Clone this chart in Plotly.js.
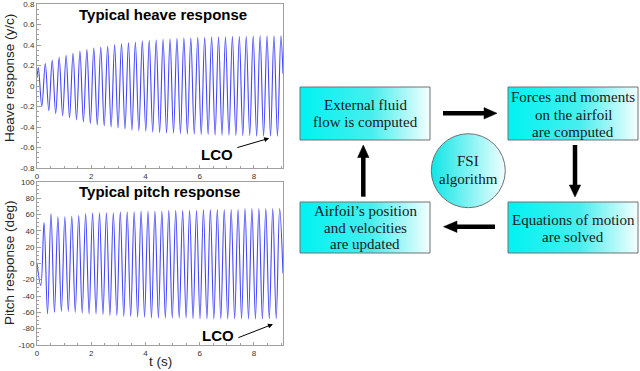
<!DOCTYPE html>
<html>
<head>
<meta charset="utf-8">
<script src="https://cdn.plot.ly/plotly-3.0.1.min.js"></script>
<style>html,body{margin:0;padding:0;background:#fff;}#chart{width:640px;height:371px;}</style>
</head>
<body>
<div id="chart"></div>
<script>
// ---- Heave response (y/c): start, alternating peaks/troughs, end ----
const heaveT = [0, 0.050, 0.178, 0.306, 0.434, 0.561, 0.689, 0.817, 0.945, 1.072, 1.200, 1.328, 1.456, 1.583, 1.711, 1.839, 1.967, 2.094, 2.222, 2.350, 2.478, 2.605, 2.733, 2.861, 2.989, 3.116, 3.244, 3.372, 3.500, 3.627, 3.755, 3.883, 4.011, 4.138, 4.266, 4.394, 4.522, 4.649, 4.777, 4.905, 5.033, 5.160, 5.288, 5.416, 5.544, 5.671, 5.799, 5.927, 6.055, 6.182, 6.310, 6.438, 6.566, 6.693, 6.821, 6.949, 7.077, 7.204, 7.332, 7.460, 7.588, 7.715, 7.843, 7.971, 8.099, 8.226, 8.354, 8.482, 8.610, 8.737, 8.865, 8.993, 9.07];
const heaveY = [0.08, 0.18, -0.20, 0.22, -0.24, 0.25, -0.27, 0.28, -0.29, 0.30, -0.31, 0.32, -0.33, 0.34, -0.35, 0.355, -0.365, 0.37, -0.38, 0.38, -0.39, 0.39, -0.40, 0.405, -0.41, 0.415, -0.42, 0.425, -0.43, 0.43, -0.435, 0.44, -0.44, 0.445, -0.45, 0.45, -0.455, 0.455, -0.46, 0.46, -0.46, 0.465, -0.465, 0.47, -0.47, 0.47, -0.47, 0.475, -0.475, 0.475, -0.475, 0.48, -0.48, 0.48, -0.48, 0.48, -0.48, 0.485, -0.485, 0.485, -0.485, 0.485, -0.485, 0.49, -0.49, 0.49, -0.49, 0.49, -0.49, 0.49, -0.49, 0.49, 0.12];

// ---- Pitch response (deg) ----
const pitchT = [0, 0.140, 0.260, 0.388, 0.516, 0.644, 0.771, 0.899, 1.027, 1.155, 1.282, 1.410, 1.538, 1.666, 1.793, 1.921, 2.049, 2.177, 2.304, 2.432, 2.560, 2.688, 2.815, 2.943, 3.071, 3.199, 3.326, 3.454, 3.582, 3.710, 3.837, 3.965, 4.093, 4.221, 4.348, 4.476, 4.604, 4.732, 4.859, 4.987, 5.115, 5.243, 5.370, 5.498, 5.626, 5.754, 5.881, 6.009, 6.137, 6.265, 6.392, 6.520, 6.648, 6.776, 6.903, 7.031, 7.159, 7.287, 7.414, 7.542, 7.670, 7.798, 7.925, 8.053, 8.181, 8.309, 8.436, 8.564, 8.692, 8.820, 8.947, 9.07];
const pitchY = [0, -27, 50, -62, 61, -60, 57, -59, 57, -59, 58, -60, 59, -61, 61, -62, 62, -62, 62, -63, 62, -64, 62, -64, 63, -65, 63, -65, 63, -66, 64, -66, 64, -67, 64, -67, 64, -67, 65, -67, 65, -67, 65, -67, 65, -68, 65, -68, 66, -68, 66, -68, 66, -68, 66, -68, 66, -68, 66, -68, 67, -68, 67, -68, 67, -68, 67, -68, 67, -68, 67, -12];

// ---- tick labels ----
const timeTicks = [0, 2, 4, 6, 8];
const timeTickText = ['0', '2', '4', '6', '8'];
const heaveTicks = [-0.8, -0.6, -0.4, -0.2, 0, 0.2, 0.4, 0.6, 0.8];
const heaveTickText = ['-0.8', '-0.6', '-0.4', '-0.2', '0', '0.2', '0.4', '0.6', '0.8'];
const pitchTicks = [-100, -80, -60, -40, -20, 0, 20, 40, 60, 80, 100];
const pitchTickText = ['-100', '-80', '-60', '-40', '-20', '0', '20', '40', '60', '80', '100'];

// ---- texts ----
const heaveTitle = 'Typical heave response';
const pitchTitle = 'Typical pitch response';
const heaveAxisTitle = 'Heave response (y/c)';
const pitchAxisTitle = 'Pitch response (deg)';
const timeAxisTitle = 't (s)';
const lcoLabel = 'LCO';
const boxLines = [
  ['External fluid', 'flow is computed'],
  ['Forces and moments', 'on the airfoil', 'are computed'],
  ['Equations of motion', 'are solved'],
  ['Airfoil\u2019s position', 'and velocities', 'are updated']
];
const circleLines = ['FSI', 'algorithm'];

// ---- diagram layout (pixel frame of the overlay axis) ----
const boxes = [
  {x0: 300, x1: 430, y0: 87, y1: 140, cy: [105, 122.3]},
  {x0: 508, x1: 638, y0: 87, y1: 140, cy: [97.3, 114.5, 131.7]},
  {x0: 508, x1: 638, y0: 202, y1: 253, cy: [220, 236.7]},
  {x0: 300, x1: 430, y0: 202, y1: 253, cy: [211, 227.7, 244.3]}
];
const circle = {cx: 468.3, cy: 170.7, d: 74, ty: [160.7, 179.3]};

const blue = '#4646ff';
const frameColor = '#a0a0a0';
const serif = 'Liberation Serif, Times New Roman, serif';
const sans = 'Liberation Sans, Arial, sans-serif';

const traces = [
  {x: heaveT, y: heaveY, xaxis: 'x', yaxis: 'y', mode: 'lines', line: {color: blue, width: 1.1, shape: 'spline', smoothing: 1, simplify: false}, hoverinfo: 'skip'},
  {x: pitchT, y: pitchY, xaxis: 'x2', yaxis: 'y2', mode: 'lines', line: {color: blue, width: 1.1, shape: 'spline', smoothing: 1, simplify: false}, hoverinfo: 'skip'}
];

boxes.forEach(b => {
  traces.push({
    x: [b.x0, b.x1, b.x1, b.x0, b.x0], y: [b.y0, b.y0, b.y1, b.y1, b.y0],
    xaxis: 'x3', yaxis: 'y3', mode: 'lines', fill: 'toself',
    fillgradient: {type: 'horizontal', colorscale: [[0, '#00f2f2'], [0.55, '#48eeee'], [1, '#f4ffff']]},
    line: {color: '#707070', width: 1}, hoverinfo: 'skip'
  });
});
traces.push({
  x: [circle.cx], y: [circle.cy], xaxis: 'x3', yaxis: 'y3', mode: 'markers',
  marker: {size: circle.d, color: '#10e6e6', gradient: {type: 'horizontal', color: '#f0ffff'}, line: {color: '#707070', width: 1}},
  hoverinfo: 'skip'
});

const annotations = [];
function txt(x, y, text, size, family, opts) {
  annotations.push(Object.assign({x: x, y: y, xref: 'x3', yref: 'y3', text: text, showarrow: false,
    font: {size: size, family: family, color: '#1a1a1a'}, xanchor: 'center', yanchor: 'middle'}, opts || {}));
}
boxes.forEach((b, i) => {
  boxLines[i].forEach((line, j) => txt((b.x0 + b.x1) / 2, b.cy[j], line, 15, serif));
});
circleLines.forEach((line, j) => txt(circle.cx, circle.ty[j], line, 15, serif));

txt(163, 14, '<b>' + heaveTitle + '</b>', 15, sans, {font: {size: 15, family: sans, color: '#000'}});
txt(159, 191, '<b>' + pitchTitle + '</b>', 15, sans, {font: {size: 15, family: sans, color: '#000'}});
txt(9, 78, heaveAxisTitle, 13.5, sans, {textangle: -90, font: {size: 13.5, family: sans, color: '#222'}});
txt(9, 263, pitchAxisTitle, 13.5, sans, {textangle: -90, font: {size: 13.5, family: sans, color: '#222'}});
txt(160, 361, timeAxisTitle, 13.5, sans, {font: {size: 13.5, family: sans, color: '#222'}});

// LCO labels and arrows (data coordinates)
annotations.push({x: 6.62, y: -0.67, xref: 'x', yref: 'y', text: '<b>' + lcoLabel + '</b>', showarrow: false, font: {size: 15, family: sans, color: '#000'}});
annotations.push({x: 8.56, y: -0.51, xref: 'x', yref: 'y', ax: 7.33, ay: -0.605, axref: 'x', ayref: 'y', text: '', showarrow: true, arrowhead: 2, arrowsize: 1, arrowwidth: 1, arrowcolor: '#000'});
annotations.push({x: 6.67, y: -88, xref: 'x2', yref: 'y2', text: '<b>' + lcoLabel + '</b>', showarrow: false, font: {size: 15, family: sans, color: '#000'}});
annotations.push({x: 8.70, y: -74.5, xref: 'x2', yref: 'y2', ax: 7.37, ay: -91.7, axref: 'x2', ayref: 'y2', text: '', showarrow: true, arrowhead: 2, arrowsize: 1, arrowwidth: 1, arrowcolor: '#000'});

// thick flow arrows
const shapes = [];
function arrow(x0, y0, x1, y1, tip) {
  shapes.push({type: 'line', xref: 'x3', yref: 'y3', x0: x0, y0: y0, x1: x1, y1: y1, line: {color: '#000', width: 4.5}});
  shapes.push({type: 'path', xref: 'x3', yref: 'y3', path: tip, fillcolor: '#000', line: {color: '#000', width: 0.5}});
}
arrow(443, 113.3, 485, 113.3, 'M 484 107.6 L 497 113.3 L 484 119 Z');
arrow(575, 145, 575, 186, 'M 569.3 185 L 575 197 L 580.7 185 Z');
arrow(495, 226.7, 456, 226.7, 'M 457 221 L 443.5 226.7 L 457 232.4 Z');
arrow(363.3, 196.7, 363.3, 156, 'M 357.6 157.5 L 363.3 145 L 369 157.5 Z');

function timeAxis(anchor, domain) {
  return {domain: domain, anchor: anchor, range: [0, 9.07], tickvals: timeTicks, ticktext: timeTickText,
    ticks: 'inside', ticklen: 3, tickcolor: frameColor, tickwidth: 1, showline: true, mirror: true,
    linecolor: frameColor, linewidth: 1, showgrid: false, zeroline: false, ticklabeloverflow: 'allow',
    tickfont: {size: 8, family: sans, color: '#333'},
    minor: {dtick: 0.5, ticks: 'inside', ticklen: 2, tickcolor: frameColor}};
}
function valueAxis(anchor, domain, range, tv, tt, mdt) {
  return {domain: domain, anchor: anchor, range: range, tickvals: tv, ticktext: tt,
    ticks: 'inside', ticklen: 4, tickcolor: frameColor, tickwidth: 1, showline: true, mirror: true,
    linecolor: frameColor, linewidth: 1, showgrid: false, zeroline: false, ticklabeloverflow: 'allow',
    tickfont: {size: 8, family: sans, color: '#333'},
    minor: {dtick: mdt, ticks: 'inside', ticklen: 2, tickcolor: frameColor}};
}

const layout = {
  width: 640, height: 371, margin: {l: 0, r: 0, t: 0, b: 0},
  paper_bgcolor: '#ffffff', plot_bgcolor: 'rgba(0,0,0,0)', showlegend: false,
  font: {family: sans},
  xaxis: timeAxis('y', [37 / 640, 283 / 640]),
  yaxis: valueAxis('x', [203 / 371, 367 / 371], [-0.8, 0.8], heaveTicks, heaveTickText, 0.05),
  xaxis2: timeAxis('y2', [37 / 640, 283 / 640]),
  yaxis2: valueAxis('x2', [26 / 371, 189.3 / 371], [-100, 100], pitchTicks, pitchTickText, 5),
  xaxis3: {domain: [0, 1], range: [0, 640], anchor: 'y3', visible: false, fixedrange: true},
  yaxis3: {domain: [0, 1], range: [371, 0], anchor: 'x3', visible: false, fixedrange: true},
  annotations: annotations, shapes: shapes
};

Plotly.newPlot('chart', traces, layout, {staticPlot: true, displayModeBar: false});
</script>
</body>
</html>
